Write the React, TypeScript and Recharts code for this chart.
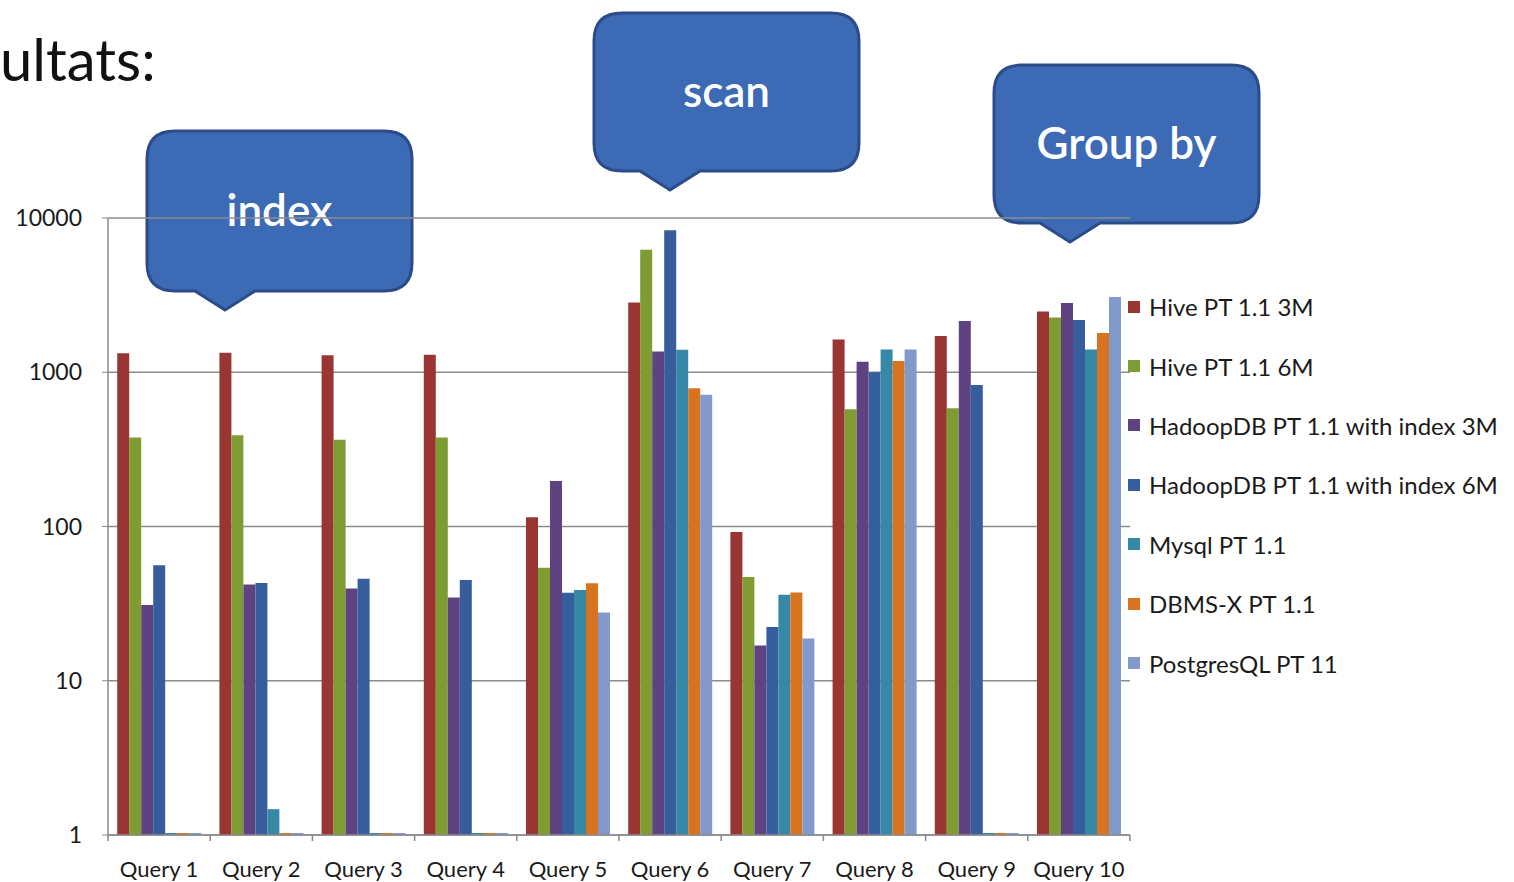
import React from "react";
import { BarChart, Bar, XAxis, YAxis, CartesianGrid, Legend } from "recharts";

const queries = [
  "Query 1", "Query 2", "Query 3", "Query 4", "Query 5",
  "Query 6", "Query 7", "Query 8", "Query 9", "Query 10",
];
const hive3M = [1330, 1340, 1290, 1300, 115, 2830, 92, 1630, 1720, 2480];
const hive6M = [377, 391, 365, 377, 54, 6220, 47, 575, 585, 2265];
const hadoop3M = [31, 42, 39.6, 34.7, 197, 1364, 16.9, 1170, 2150, 2810];
const hadoop6M = [56, 43, 45.8, 45, 37.2, 8340, 22.3, 1000, 827, 2180];
const mysql = [1.03, 1.47, 1.03, 1.03, 38.8, 1400, 36.1, 1406, 1.03, 1406];
const dbmsX = [1.03, 1.03, 1.03, 1.03, 42.9, 787, 37.4, 1183, 1.03, 1795];
const postgres = [1.03, 1.03, 1.03, 1.03, 27.7, 714, 18.8, 1406, 1.03, 3070];

const yTicks = [1, 10, 100, 1000, 10000];

const series = [
  { key: "hive3M", name: "Hive PT 1.1 3M", color: "#993634", values: hive3M },
  { key: "hive6M", name: "Hive PT 1.1 6M", color: "#7F9C33", values: hive6M },
  { key: "hadoop3M", name: "HadoopDB PT 1.1 with index 3M", color: "#5E4282", values: hadoop3M },
  { key: "hadoop6M", name: "HadoopDB PT 1.1 with index 6M", color: "#365E9C", values: hadoop6M },
  { key: "mysql", name: "Mysql PT 1.1", color: "#3589A6", values: mysql },
  { key: "dbmsX", name: "DBMS-X PT 1.1", color: "#D8741F", values: dbmsX },
  { key: "postgres", name: "PostgresQL PT 11", color: "#8199CB", values: postgres },
];

const data = queries.map((q, i) => {
  const row: any = { query: q };
  series.forEach((s) => (row[s.key] = s.values[i]));
  return row;
});

const FONT = "Lato, 'Open Sans', sans-serif";

const QueryTick = (props: any) => {
  const { x, y, payload, index } = props;
  const half = payload.offset || 51.1;
  return (
    <g>
      <line x1={x - half} x2={x - half} y1={y - 10} y2={y - 4} stroke="#888" strokeWidth={1.5} />
      {index === queries.length - 1 && (
        <line x1={x + half} x2={x + half} y1={y - 10} y2={y - 4} stroke="#888" strokeWidth={1.5} />
      )}
      <text x={x} y={y + 32} textAnchor="middle" fontSize={22} fill="#1a1a1a" fontFamily={FONT}>
        {payload.value}
      </text>
    </g>
  );
};

// legend order follows the series list (not alphabetical)
const LegendList = () => (
  <div style={{ fontFamily: FONT }}>
    {series.map((s) => (
      <div key={s.key} style={{ display: "flex", alignItems: "center", height: 59.4 }}>
        <div style={{ width: 12, height: 12, background: s.color, marginRight: 9 }} />
        <span style={{ fontSize: 24, color: "#1a1a1a", whiteSpace: "nowrap" }}>{s.name}</span>
      </div>
    ))}
  </div>
);

const Callout = ({ x, y, w, h, tipX, text, fontSize }: any) => {
  const r = 28;
  const b = y + h;
  const d = [
    `M ${x + r} ${y}`,
    `H ${x + w - r}`,
    `Q ${x + w} ${y} ${x + w} ${y + r}`,
    `V ${b - r}`,
    `Q ${x + w} ${b} ${x + w - r} ${b}`,
    `H ${tipX + 30}`,
    `L ${tipX} ${b + 19}`,
    `L ${tipX - 30} ${b}`,
    `H ${x + r}`,
    `Q ${x} ${b} ${x} ${b - r}`,
    `V ${y + r}`,
    `Q ${x} ${y} ${x + r} ${y}`,
    "Z",
  ].join(" ");
  return (
    <g>
      <path d={d} fill="#3D6AB5" stroke="#2B4C88" strokeWidth={3} />
      <text
        x={x + w / 2}
        y={y + h / 2 + 15}
        textAnchor="middle"
        fill="#fff"
        fontSize={fontSize}
        fontWeight={600}
        fontFamily={FONT}
      >
        {text}
      </text>
    </g>
  );
};

export default function App() {
  return (
    <div style={{ position: "absolute", left: 0, top: 0, width: 1514, height: 882, background: "#fff", overflow: "hidden" }}>
      {/* callouts sit under the chart so the 10000 gridline shows across them */}
      <svg width={1514} height={882} style={{ position: "absolute", left: 0, top: 0, zIndex: 0 }}>
        <text x={0} y={81} fontSize={58} fill="#111" fontFamily={FONT}>ultats:</text>
        <Callout x={147} y={131} w={265} h={160} tipX={225} text="index" fontSize={44} />
        <Callout x={594} y={13} w={265} h={158} tipX={670} text="scan" fontSize={44} />
        <Callout x={994} y={65} w={265} h={158} tipX={1070} text="Group by" fontSize={44} />
      </svg>
      <div style={{ position: "absolute", left: 0, top: 0, zIndex: 1 }}>
        <BarChart
          width={1514}
          height={882}
          data={data}
          margin={{ top: 218, right: 384, bottom: 0, left: 8 }}
          barCategoryGap="9%"
          barGap={0}
        >
          <CartesianGrid vertical={false} stroke="#8c8c8c" strokeWidth={1.5} />
          <XAxis
            dataKey="query"
            height={47}
            axisLine={{ stroke: "#8c8c8c", strokeWidth: 1.5 }}
            tickLine={false}
            tickSize={6}
            tickMargin={4}
            tick={<QueryTick />}
            interval={0}
          />
          <YAxis
            scale="log"
            domain={[1, 10000]}
            ticks={yTicks}
            allowDataOverflow
            width={100}
            axisLine={{ stroke: "#8c8c8c", strokeWidth: 1.5 }}
            tickLine={{ stroke: "#8c8c8c" }}
            tickSize={6}
            tickMargin={20}
            tick={{ fontSize: 23, fill: "#1a1a1a", fontFamily: FONT }}
          />
          <Legend
            layout="vertical"
            align="center"
            verticalAlign="middle"
            content={<LegendList />}
            wrapperStyle={{ position: "absolute", left: 1128, top: 277, width: 386 }}
          />
          {series.map((s) => (
            <Bar key={s.key} dataKey={s.key} name={s.name} fill={s.color} isAnimationActive={false} />
          ))}
        </BarChart>
      </div>
    </div>
  );
}
